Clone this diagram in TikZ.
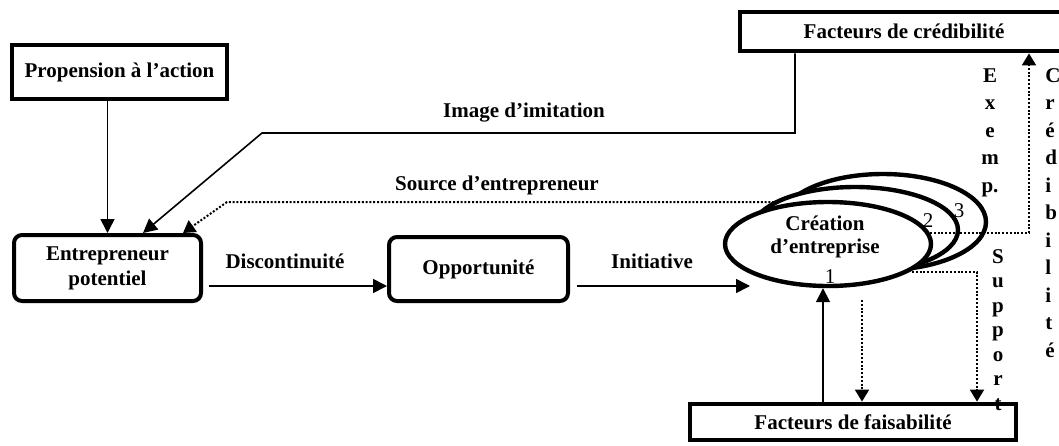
\documentclass[tikz,border=0pt]{standalone}
\usepackage{fontspec}
\setmainfont{Liberation Serif}
\usetikzlibrary{arrows.meta,shapes.geometric}
\tikzset{
  bf/.style={font=\bfseries\fontsize{10.5}{12.5}\selectfont},
  lbl/.style={bf, inner sep=0},
  sqbox/.style={draw, line width=2.4pt, fill=white, inner sep=0, bf, align=center},
  rbox/.style={sqbox, rounded corners=4pt, line width=2pt},
  ell/.style={draw, ellipse, line width=2.2pt, fill=white, inner sep=0},
  num/.style={font=\fontsize{10.5}{12}\selectfont, inner sep=0},
  conn/.style={line width=0.8pt, -{Triangle[length=7pt,width=7pt]}},
  dconn/.style={line width=1pt, dash pattern=on 1pt off 0.9pt, -{Triangle[length=6pt,width=7pt]}},
  vtext/.style={font=\bfseries\fontsize{10.5}{13.75}\selectfont, inner sep=0},
}
\begin{document}
\begin{tikzpicture}[x=0.5pt,y=-0.5pt]
\useasboundingbox (0,0) rectangle (1059,445);
\clip (0,0) rectangle (1059,445);
% boxes
\node[sqbox, minimum width=164pt, minimum height=19.5pt] (cred) at (904,31.5) {\raisebox{-3.5pt}{Facteurs de crédibilité}};
\node[sqbox, minimum width=107.5pt, minimum height=27pt] (prop) at (119.5,72) {Propension à l’action};
\node[rbox, minimum width=93.5pt, minimum height=33pt, font=\bfseries\fontsize{10.5}{12.5}\selectfont] (ent) at (107.5,268) {Entrepreneur\\potentiel};
\node[rbox, minimum width=89.5pt, minimum height=32pt] (opp) at (478.5,269) {Opportunité};
\node[sqbox, minimum width=163pt, minimum height=18pt] (fais) at (853,422) {\raisebox{-1pt}{Facteurs de faisabilité}};
% ellipses
\node[ell, minimum width=103pt, minimum height=48pt] (e3) at (883,222) {};
\node[ell, minimum width=103pt, minimum height=43pt] (e2) at (855,230) {};
\node[ell, minimum width=103pt, minimum height=42pt] (e1) at (828,244) {};
\node[lbl, align=center, font=\bfseries\fontsize{10.5}{11.5}\selectfont] (e1t) at (825,237) {Création\\d’entreprise};
\node[num, anchor=base] (n1) at (830,283) {1};
\node[num, anchor=base] (n2) at (928,227) {2};
\node[num, anchor=base] (n3) at (959,217) {3};
% labels
\node[lbl, anchor=base] (limg) at (524,117) {Image d’imitation};
\node[lbl, anchor=base] (lsrc) at (497,190) {Source d’entrepreneur};
\node[lbl, anchor=base] (ldis) at (285,268) {Discontinuité};
\node[lbl, anchor=base] (lini) at (652,268) {Initiative};
% vertical texts (anchor = baseline of last line)
\node[vtext, anchor=base, align=center] (vex) at (990,192) {E\\x\\e\\m\\p.};
\node[vtext, anchor=base west, align=left] (vcr) at (1045,357) {C\\r\\é\\d\\i\\b\\i\\l\\i\\t\\é};
\node[vtext, anchor=base, align=center, font=\bfseries\fontsize{10.5}{12.25}\selectfont] (vsu) at (998,410) {S\\u\\p\\p\\o\\r\\t};
% coordinates
\coordinate (im1) at (795,133);
\coordinate (im2) at (262,133);
\coordinate (sr1) at (778,202);
\coordinate (sr2) at (227,202);
\coordinate (dA) at (209,286);
\coordinate (iA) at (577,286);
\coordinate (iB) at (750,286);
\coordinate (upx) at (823,0);
\coordinate (d1) at (862,300);
\coordinate (d2) at (912,272);
\coordinate (d2b) at (977,272);
\coordinate (c1) at (930,233);
\coordinate (c2) at (1029,233);
% connectors
\draw[conn] (ent.north |- prop.south) -- (ent.north);
\draw[conn] (im1 |- cred.south) -- (im1) -- (im2) -- ([xshift=17.75pt]ent.north);
\draw[dconn] (sr1) -- (sr2) -- ([xshift=37.75pt]ent.north);
\draw[conn] (dA) -- (dA -| opp.west);
\draw[conn] (iA) -- (iB);
\draw[conn] (upx |- fais.north) -- (upx |- e1.south);
\draw[dconn] (d1) -- (d1 |- fais.north);
\draw[dconn] (d2) -- (d2b) -- (d2b |- fais.north);
\draw[dconn] (c1) -- (c2) -- (c2 |- cred.south);
\end{tikzpicture}
\end{document}
